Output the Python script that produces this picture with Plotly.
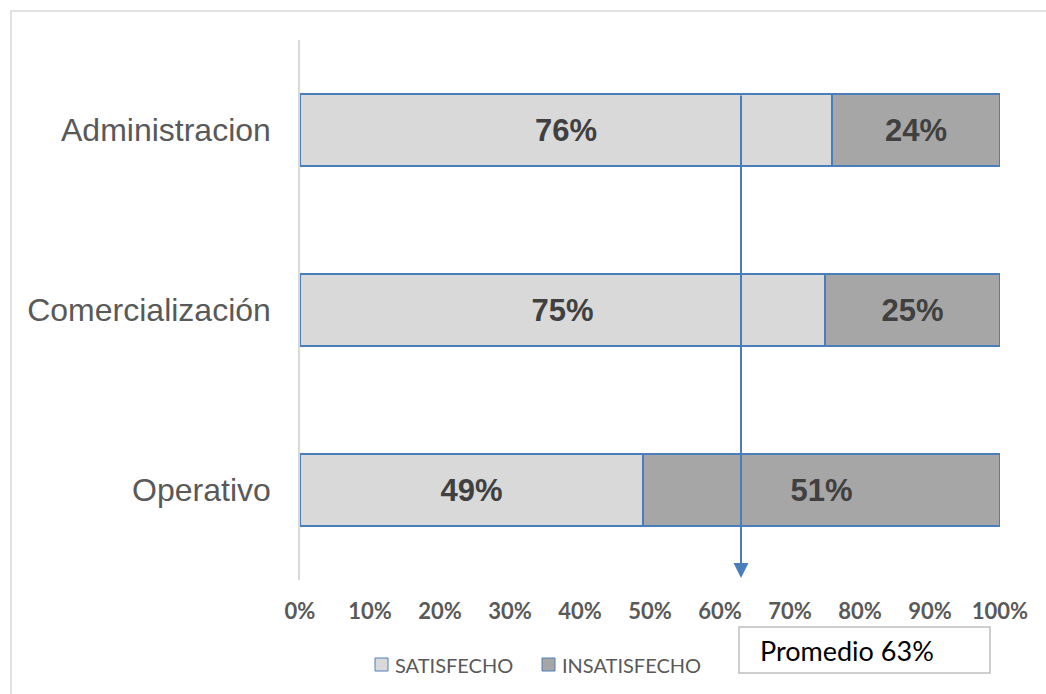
import plotly.graph_objects as go

# Satisfaction by area (percent of respondents)
areas = ["Administracion", "Comercialización", "Operativo"]
satisfecho = [76, 75, 49]
insatisfecho = [24, 25, 51]
promedio = 63
x_ticks = [0, 10, 20, 30, 40, 50, 60, 70, 80, 90, 100]
x_tick_labels = [f"{v}%" for v in x_ticks]
series_names = ["SATISFECHO", "INSATISFECHO"]
series_colors = ["#d9d9d9", "#a6a6a6"]

W, H = 1046, 694
L, R, T, B = 300, 46, 40, 114
PW, PH = W - L - R, H - T - B


def px_x(p):
    return (p - L) / PW


def px_y(p):
    return (H - B - p) / PH


edge = "#4a7ebb"
fig = go.Figure()
for name, vals, col in zip(series_names, [satisfecho, insatisfecho], series_colors):
    fig.add_trace(go.Bar(
        y=areas, x=vals, name=name, orientation="h",
        marker=dict(color=col, line=dict(color=edge, width=1.5)),
        text=[f"{v}%" for v in vals], textposition="inside",
        insidetextanchor="middle",
        textfont=dict(family="Liberation Sans", size=31, color="#404040", weight="bold"),
        showlegend=False, width=0.4,
    ))

fig.update_layout(
    barmode="stack",
    width=W, height=H,
    margin=dict(l=L, r=R, t=T, b=B),
    paper_bgcolor="white", plot_bgcolor="white",
    bargap=0.6,
    xaxis=dict(range=[0, 100], tickvals=x_ticks, ticktext=x_tick_labels,
               showgrid=False, zeroline=False, showline=False, ticks="",
               tickfont=dict(family="Lato", size=22, color="#595959", weight="bold"),
               ticklabelstandoff=16),
    yaxis=dict(categoryorder="array", categoryarray=areas, autorange="reversed",
               range=[2.5, -0.5],
               showgrid=False, zeroline=False, showline=True, linecolor="#d9d9d9",
               linewidth=1.5, ticks="",
               tickfont=dict(family="Liberation Sans", size=32, color="#595959"),
               ticklabelstandoff=21),
)

# Average marker: vertical arrow at the overall mean
fig.add_annotation(
    x=promedio, xref="x", y=px_y(578), yref="paper",
    ax=0, ay=-(578 - 94), axref="pixel", ayref="pixel",
    showarrow=True, arrowhead=2, arrowsize=1.5, arrowwidth=2,
    arrowcolor=edge, text="",
)

# Outer frame
fig.add_shape(type="rect", xref="paper", yref="paper",
              x0=px_x(11), x1=px_x(1070), y0=px_y(11), y1=px_y(720),
              line=dict(color="#d9d9d9", width=1.5), fillcolor="rgba(0,0,0,0)",
              layer="below")

# Legend
leg_items = [(375, series_names[0], series_colors[0]), (542, series_names[1], series_colors[1])]
for lx, name, col in leg_items:
    fig.add_shape(type="rect", xref="paper", yref="paper",
                  x0=px_x(lx), x1=px_x(lx + 13), y0=px_y(658), y1=px_y(671),
                  fillcolor=col, line=dict(color=edge, width=1))
    fig.add_annotation(x=px_x(lx + 18), y=px_y(664.5), xref="paper", yref="paper",
                       text=name, showarrow=False, xanchor="left", yanchor="middle",
                       font=dict(family="Lato", size=20, color="#595959"))

# Average label box
fig.add_shape(type="rect", xref="paper", yref="paper",
              x0=px_x(739), x1=px_x(990), y0=px_y(627), y1=px_y(673),
              line=dict(color="#bfbfbf", width=1.5), fillcolor="white")
fig.add_annotation(x=px_x(758), y=px_y(650), xref="paper", yref="paper",
                   text=f"Promedio {promedio}%", showarrow=False,
                   xanchor="left", yanchor="middle",
                   font=dict(family="Lato", size=27, color="#000000"))

fig.write_html("out.html")
